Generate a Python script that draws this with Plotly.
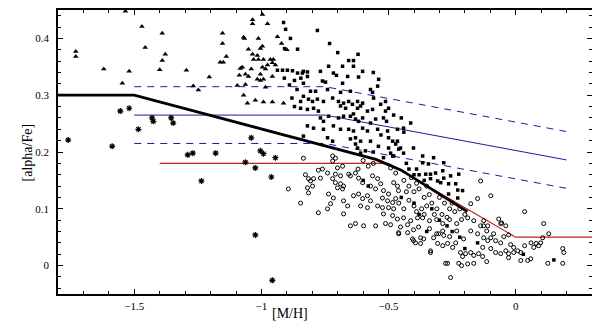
import plotly.graph_objects as go

# ---- data ----
triangles = [
    (-1.73, 0.377), (-1.73, 0.368), (-1.62, 0.346), (-1.547, 0.321), (-1.535, 0.448), (-1.52, 0.342),
    (-1.47, 0.421), (-1.457, 0.384), (-1.40, 0.345), (-1.39, 0.361), (-1.39, 0.409), (-1.378, 0.372),
    (-1.295, 0.344), (-1.268, 0.316), (-1.248, 0.309), (-1.205, 0.332), (-1.153, 0.409), (-1.153, 0.391),
    (-1.162, 0.358), (-1.150, 0.358), (-1.138, 0.368), (-1.095, 0.317), (-1.063, 0.319), (-1.07, 0.30),
    (-1.07, 0.402), (-0.996, 0.442), (-1.035, 0.433), (-1.035, 0.426), (-0.976, 0.426), (-1.067, 0.40),
    (-1.012, 0.40), (-1.051, 0.381), (-1.004, 0.382), (-0.996, 0.386), (-1.035, 0.372), (-1.016, 0.37),
    (-1.031, 0.363), (-1.012, 0.363), (-0.992, 0.363), (-0.965, 0.363), (-0.953, 0.363), (-0.957, 0.357),
    (-0.976, 0.353), (-0.945, 0.353), (-1.075, 0.349), (-1.083, 0.347), (-1.04, 0.346), (-0.996, 0.349),
    (-0.984, 0.346), (-1.087, 0.335), (-1.063, 0.337), (-1.051, 0.333), (-1.004, 0.337), (-0.957, 0.333),
    (-1.016, 0.328), (-1.004, 0.326), (-0.992, 0.328), (-1.055, 0.286), (-1.024, 0.291), (-0.992, 0.288),
    (-0.957, 0.288), (-0.913, 0.286), (-0.984, 0.314), (-0.937, 0.403), (-0.921, 0.391), (-0.90, 0.38),
]

squares = [
    (-0.913, 0.428), (-0.905, 0.416), (-0.886, 0.40), (-0.909, 0.382), (-0.858, 0.381), (-0.937, 0.344),
    (-0.917, 0.344), (-0.898, 0.344), (-0.878, 0.343), (-0.858, 0.339), (-0.839, 0.339), (-0.819, 0.341),
    (-0.91, 0.33), (-0.87, 0.326), (-0.845, 0.33), (-0.89, 0.318), (-0.86, 0.31), (-0.88, 0.295),
    (-0.87, 0.28), (-0.78, 0.414), (-0.732, 0.391), (-0.657, 0.361), (-0.638, 0.361), (-0.736, 0.351),
    (-0.681, 0.351), (-0.638, 0.351), (-0.835, 0.342), (-0.819, 0.333), (-0.768, 0.342), (-0.717, 0.339),
    (-0.705, 0.335), (-0.661, 0.333), (-0.618, 0.332), (-0.602, 0.342), (-0.539, 0.328), (-0.76, 0.325),
    (-0.748, 0.323), (-0.835, 0.321), (-0.681, 0.321), (-0.543, 0.316), (-0.807, 0.307), (-0.787, 0.307),
    (-0.74, 0.31), (-0.689, 0.305), (-0.65, 0.307), (-0.571, 0.31), (-0.563, 0.305), (-0.835, 0.298),
    (-0.846, 0.289), (-0.815, 0.293), (-0.799, 0.289), (-0.78, 0.293), (-0.756, 0.289), (-0.72, 0.295),
    (-0.697, 0.289), (-0.677, 0.286), (-0.657, 0.289), (-0.642, 0.284), (-0.622, 0.289), (-0.602, 0.286),
    (-0.559, 0.295), (-0.531, 0.284), (-0.512, 0.289), (-0.846, 0.277), (-0.819, 0.275), (-0.776, 0.272),
    (-0.795, 0.277), (-0.689, 0.281), (-0.669, 0.277), (-0.622, 0.277), (-0.61, 0.281), (-0.583, 0.272),
    (-0.563, 0.275), (-0.512, 0.272), (-0.50, 0.277), (-0.768, 0.26), (-0.736, 0.263), (-0.756, 0.254),
    (-0.697, 0.26), (-0.677, 0.263), (-0.65, 0.263), (-0.63, 0.258), (-0.618, 0.254), (-0.602, 0.26),
    (-0.638, 0.267), (-0.571, 0.251), (-0.551, 0.258), (-0.52, 0.26), (-0.508, 0.254), (-0.819, 0.246),
    (-0.795, 0.242), (-0.756, 0.24), (-0.717, 0.246), (-0.689, 0.24), (-0.657, 0.24), (-0.638, 0.237),
    (-0.602, 0.242), (-0.583, 0.237), (-0.543, 0.24), (-0.504, 0.237), (-0.465, 0.24), (-0.441, 0.242),
    (-0.413, 0.251), (-0.835, 0.228), (-0.74, 0.225), (-0.72, 0.219), (-0.65, 0.223), (-0.63, 0.225),
    (-0.61, 0.219), (-0.63, 0.214), (-0.571, 0.219), (-0.50, 0.225), (-0.484, 0.219), (-0.50, 0.207),
    (-0.465, 0.219), (-0.453, 0.207), (-0.402, 0.207), (-0.622, 0.207), (-0.61, 0.198), (-0.591, 0.202),
    (-0.492, 0.198), (-0.48, 0.193), (-0.366, 0.193), (-0.323, 0.19), (-0.472, 0.214), (-0.46, 0.205),
    (-0.484, 0.193), (-0.441, 0.198), (-0.283, 0.181), (-0.366, 0.181), (-0.343, 0.179), (-0.287, 0.167),
    (-0.354, 0.161), (-0.335, 0.161), (-0.315, 0.163), (-0.283, 0.154), (-0.256, 0.158), (-0.224, 0.161),
    (-0.335, 0.153), (-0.307, 0.149), (-0.295, 0.146), (-0.264, 0.144), (-0.236, 0.144), (-0.228, 0.133),
    (-0.209, 0.132), (-0.264, 0.126), (-0.228, 0.119), (-0.53, 0.23), (-0.56, 0.20), (-0.54, 0.21),
    (-0.52, 0.19), (-0.43, 0.18), (-0.42, 0.17), (-0.39, 0.17), (-0.38, 0.16), (-0.36, 0.15),
    (-0.40, 0.16), (-0.70, 0.375), (-0.62, 0.372), (-0.56, 0.34), (-0.45, 0.26), (-0.44, 0.235),
    (-0.48, 0.265), (-0.60, 0.15), (-0.58, 0.14), (-0.45, 0.12), (-0.40, 0.11), (-0.38, 0.09),
    (-0.33, 0.10), (-0.30, 0.08), (-0.27, 0.07), (-0.25, 0.06), (-0.22, 0.05), (-0.35, 0.06),
    (-0.20, 0.03), (-0.15, 0.04), (0.03, 0.02), (0.15, 0.01),
]

circles = [
    (-0.894, 0.135), (-0.846, 0.11), (-0.776, 0.093), (-0.74, 0.10), (-0.677, 0.091), (-0.728, 0.109),
    (-0.819, 0.137), (-0.807, 0.149), (-0.768, 0.154), (-0.74, 0.163), (-0.709, 0.161), (-0.689, 0.158),
    (-0.657, 0.161), (-0.681, 0.175), (-0.701, 0.172), (-0.835, 0.189), (-0.827, 0.16), (-0.815, 0.153),
    (-0.795, 0.153), (-0.776, 0.168), (-0.76, 0.17), (-0.72, 0.193), (-0.709, 0.189), (-0.72, 0.184),
    (-0.799, 0.14), (-0.815, 0.128), (-0.736, 0.126), (-0.717, 0.119), (-0.709, 0.146), (-0.689, 0.144),
    (-0.677, 0.14), (-0.701, 0.137), (-0.681, 0.135), (-0.72, 0.153), (-0.65, 0.158), (-0.63, 0.163),
    (-0.618, 0.154), (-0.602, 0.146), (-0.638, 0.123), (-0.618, 0.126), (-0.602, 0.118), (-0.583, 0.123),
    (-0.571, 0.114), (-0.563, 0.158), (-0.543, 0.153), (-0.531, 0.144), (-0.571, 0.14), (-0.551, 0.135),
    (-0.52, 0.132), (-0.50, 0.126), (-0.524, 0.119), (-0.504, 0.114), (-0.484, 0.111), (-0.472, 0.118),
    (-0.543, 0.105), (-0.524, 0.102), (-0.50, 0.102), (-0.48, 0.10), (-0.61, 0.105), (-0.583, 0.102),
    (-0.677, 0.114), (-0.661, 0.105), (-0.465, 0.14), (-0.461, 0.132), (-0.48, 0.146), (-0.492, 0.172),
    (-0.472, 0.163), (-0.52, 0.091), (-0.551, 0.07), (-0.598, 0.07), (-0.63, 0.074), (-0.65, 0.07),
    (-0.512, 0.074), (-0.461, 0.058), (-0.425, 0.058), (-0.406, 0.047), (-0.394, 0.04), (-0.374, 0.049),
    (-0.335, 0.026), (-0.46, 0.056), (-0.402, 0.044), (-0.374, 0.039), (-0.362, 0.047), (-0.335, 0.023),
    (-0.323, 0.049), (-0.303, 0.056), (-0.283, 0.053), (-0.307, 0.039), (-0.287, 0.035), (-0.268, 0.039),
    (-0.248, 0.032), (-0.236, 0.04), (-0.217, 0.023), (-0.197, 0.021), (-0.177, 0.023), (-0.165, 0.018),
    (-0.146, 0.021), (-0.209, 0.016), (-0.189, 0.003), (-0.165, 0.004), (-0.114, 0.007), (-0.13, 0.016),
    (-0.276, 0.004), (-0.256, -0.021), (-0.213, 0.0), (-0.224, 0.004), (-0.268, 0.004), (-0.098, 0.03),
    (-0.079, 0.023), (-0.059, 0.021), (-0.039, 0.026), (-0.028, 0.021), (-0.008, 0.023), (-0.126, 0.07),
    (-0.114, 0.061), (-0.087, 0.056), (-0.067, 0.082), (-0.055, 0.075), (-0.047, 0.051), (-0.028, 0.054),
    (-0.189, 0.084), (-0.165, 0.079), (-0.138, 0.07), (-0.177, 0.061), (-0.15, 0.056), (-0.126, 0.049),
    (-0.366, 0.084), (-0.339, 0.079), (-0.311, 0.081), (-0.287, 0.074), (-0.26, 0.081), (-0.232, 0.074),
    (-0.213, 0.081), (-0.339, 0.065), (-0.311, 0.056), (-0.287, 0.061), (-0.26, 0.051), (-0.232, 0.061),
    (-0.205, 0.047), (-0.484, 0.088), (-0.465, 0.082), (-0.441, 0.084), (-0.413, 0.079), (-0.386, 0.084),
    (-0.492, 0.072), (-0.453, 0.068), (-0.425, 0.072), (-0.402, 0.063), (-0.382, 0.068), (-0.138, 0.149),
    (-0.098, 0.123), (-0.15, 0.118), (-0.177, 0.109), (0.035, 0.095), (0.11, 0.074), (0.13, 0.056),
    (0.106, 0.049), (-0.059, 0.074), (-0.039, 0.07), (-0.126, 0.079), (-0.11, 0.07), (-0.098, 0.049),
    (-0.079, 0.044), (-0.059, 0.04), (-0.02, 0.037), (-0.13, 0.032), (-0.11, 0.044), (-0.008, 0.032),
    (0.035, 0.035), (0.06, 0.04), (0.08, 0.039), (0.098, 0.04), (0.185, 0.03), (0.189, 0.023),
    (0.126, 0.004), (0.185, 0.004), (0.02, 0.009), (0.047, 0.009), (0.059, 0.012), (0.071, 0.032),
    (0.09, 0.035), (0.008, 0.026), (0.02, 0.023), (-0.028, 0.014), (-0.44, 0.15), (-0.42, 0.14),
    (-0.40, 0.13), (-0.38, 0.135), (-0.36, 0.12), (-0.34, 0.125), (-0.42, 0.115), (-0.40, 0.105),
    (-0.37, 0.10), (-0.35, 0.105), (-0.33, 0.11), (-0.31, 0.10), (-0.30, 0.12), (-0.28, 0.11),
    (-0.26, 0.10), (-0.24, 0.095), (-0.32, 0.09), (-0.29, 0.09), (-0.27, 0.085), (-0.44, 0.10),
    (-0.46, 0.11), (-0.43, 0.13), (-0.39, 0.095), (-0.36, 0.09), (-0.25, 0.11), (-0.22, 0.10),
    (-0.20, 0.09), (-0.41, 0.155), (-0.39, 0.145), (-0.35, 0.14), (-0.58, 0.175), (-0.56, 0.18),
    (-0.60, 0.185), (-0.62, 0.17),
]

stars = [
    (-1.76, 0.221), (-1.587, 0.21), (-1.555, 0.272), (-1.52, 0.277), (-1.484, 0.24), (-1.43, 0.26),
    (-1.425, 0.254), (-1.355, 0.26), (-1.347, 0.251), (-1.29, 0.195), (-1.27, 0.198), (-1.18, 0.198),
    (-1.04, 0.225), (-1.004, 0.202), (-0.992, 0.197), (-0.945, 0.19), (-1.236, 0.149), (-1.063, 0.182),
    (-1.024, 0.172), (-0.961, 0.156), (-1.024, 0.054), (-0.957, -0.026),
]

# model lines
black_x = [-1.8, -1.5, -0.55, -0.45, -0.19]
black_y = [0.30, 0.30, 0.187, 0.168, 0.095]
red_x = [-1.4, -0.5, 0.0, 0.3]
red_y = [0.18, 0.18, 0.05, 0.05]
blue_x = [-1.5, -0.75, 0.2]
blue_mid = [0.265, 0.265, 0.186]
blue_hi = [0.315, 0.315, 0.236]
blue_lo = [0.215, 0.215, 0.136]

BLUE = "#1c1c9c"
RED = "#c42020"


def xs(pts):
    return [p[0] for p in pts]


def ys(pts):
    return [p[1] for p in pts]


fig = go.Figure()

fig.add_trace(go.Scatter(x=blue_x, y=blue_hi, mode="lines",
                         line=dict(color=BLUE, width=1, dash="7px,6px")))
fig.add_trace(go.Scatter(x=blue_x, y=blue_mid, mode="lines", line=dict(color=BLUE, width=1)))
fig.add_trace(go.Scatter(x=blue_x, y=blue_lo, mode="lines",
                         line=dict(color=BLUE, width=1, dash="7px,6px")))
fig.add_trace(go.Scatter(x=red_x, y=red_y, mode="lines", line=dict(color=RED, width=1.2)))

fig.add_trace(go.Scatter(x=xs(circles), y=ys(circles), mode="markers",
                         marker=dict(symbol="circle-open", size=4, color="black", line=dict(width=1))))
fig.add_trace(go.Scatter(x=xs(squares), y=ys(squares), mode="markers",
                         marker=dict(symbol="square", size=3.5, color="black", line=dict(width=0))))
fig.add_trace(go.Scatter(x=xs(triangles), y=ys(triangles), mode="markers",
                         marker=dict(symbol="triangle-up", size=5, color="black", line=dict(width=0))))
fig.add_trace(go.Scatter(x=xs(stars), y=ys(stars), mode="markers",
                         marker=dict(symbol="asterisk-open", size=5, color="black",
                                     line=dict(width=1.2, color="black"))))

fig.add_trace(go.Scatter(x=black_x, y=black_y, mode="lines", line=dict(color="black", width=2.8)))

tickfont = dict(family="Liberation Serif", size=11, color="black")
fig.update_xaxes(range=[-1.8, 0.3], tickvals=[-1.5, -1, -0.5, 0], ticktext=["\u22121.5", "\u22121", "\u22120.5", "0"],
                 ticks="inside", ticklen=5, tickwidth=1, tickcolor="black", mirror="ticks",
                 showline=True, linecolor="black", linewidth=1.5, showgrid=False, zeroline=False,
                 minor=dict(dtick=0.1, tick0=0, ticks="inside", ticklen=3, tickcolor="black", showgrid=False),
                 tickfont=tickfont, ticklabelstandoff=1)
fig.update_yaxes(range=[-0.05, 0.45], tickvals=[0, 0.1, 0.2, 0.3, 0.4],
                 ticks="inside", ticklen=5, tickwidth=1, tickcolor="black", mirror="ticks",
                 showline=True, linecolor="black", linewidth=1.5, showgrid=False, zeroline=False,
                 minor=dict(dtick=0.02, tick0=0, ticks="inside", ticklen=3, tickcolor="black", showgrid=False),
                 tickfont=tickfont, ticklabelstandoff=5)

# the page body adds an 8px offset, so the figure is sized to the visible area
fig.update_layout(
    width=592, height=313,
    margin=dict(l=50, r=8, t=0, b=27),
    plot_bgcolor="white", paper_bgcolor="white",
    showlegend=False,
    annotations=[
        dict(text="[M/H]", x=0.435, y=-0.068, xref="paper", yref="paper", yanchor="middle",
             showarrow=False, font=dict(family="Liberation Serif", size=14, color="black")),
        dict(text="[alpha/Fe]", x=-0.075, y=0.5, xref="paper", yref="paper", textangle=-90,
             showarrow=False, font=dict(family="Liberation Serif", size=14, color="black")),
    ],
)

fig.write_html("out.html")
